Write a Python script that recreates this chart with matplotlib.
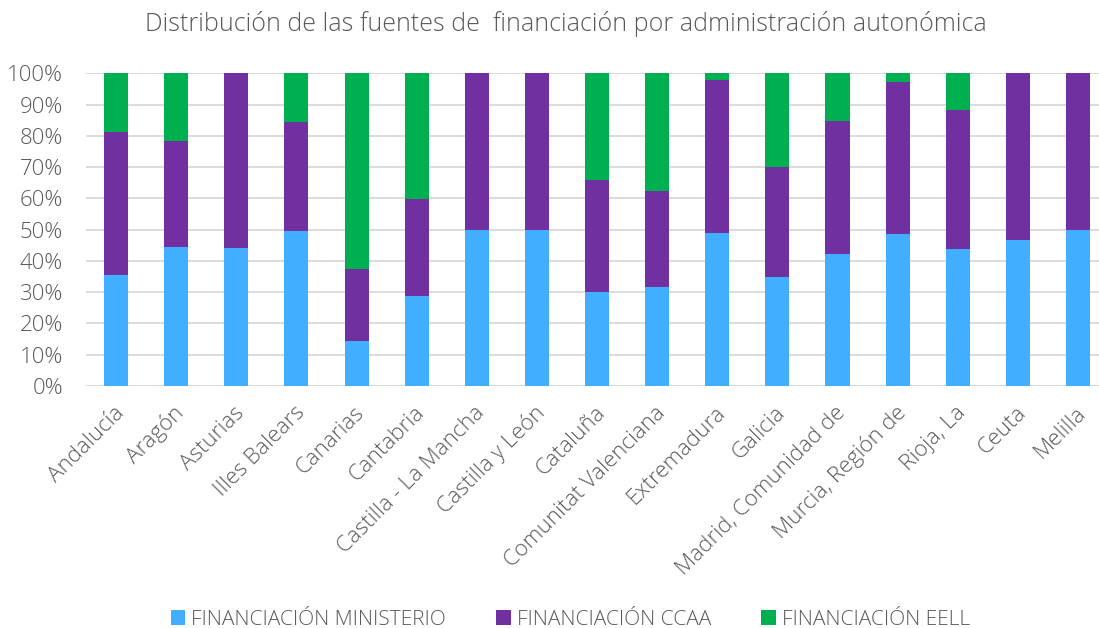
import matplotlib
matplotlib.use("Agg")
import matplotlib.pyplot as plt
import matplotlib.transforms as mtransforms
import numpy as np
from matplotlib.ticker import PercentFormatter

categories = ["Andalucía", "Aragón", "Asturias", "Illes Balears", "Canarias", "Cantabria",
              "Castilla - La Mancha", "Castilla y León", "Cataluña", "Comunitat Valenciana",
              "Extremadura", "Galicia", "Madrid, Comunidad de", "Murcia, Región de",
              "Rioja, La", "Ceuta", "Melilla"]
ministerio = [35.5, 44.5, 44.2, 49.5, 14.5, 28.9, 50.0, 50.0, 30.2, 31.5, 49.0, 34.9, 42.3, 48.5, 43.9, 46.7, 50.0]
ccaa = [45.8, 33.8, 55.8, 34.8, 22.8, 30.8, 50.0, 50.0, 35.6, 30.9, 49.0, 35.0, 42.3, 48.7, 44.3, 53.3, 50.0]
eell = [100 - a - b for a, b in zip(ministerio, ccaa)]

series_names = ["FINANCIACIÓN MINISTERIO", "FINANCIACIÓN CCAA", "FINANCIACIÓN EELL"]
colors = ["#41AEFF", "#7030A0", "#00B050"]

plt.rcParams['font.family'] = ['Open Sans', 'DejaVu Sans']
plt.rcParams['font.weight'] = 'light'
text_color = "#595959"

fig = plt.figure(figsize=(10.99, 6.28), dpi=100)
W, H = 1099, 628
ax = fig.add_axes([86 / W, (H - 386) / H, (1099 - 86) / W, (386 - 73.3) / H])

x = np.arange(len(categories))
bottom = np.zeros(len(categories))
for vals, name, c in zip([ministerio, ccaa, eell], series_names, colors):
    v = np.array(vals)
    ax.bar(x, v, 0.4, bottom=bottom, color=c, label=name, zorder=3)
    bottom += v

ax.set_ylim(0, 100)
ax.set_xlim(-0.5, 16.35)
ax.set_yticks(np.arange(0, 101, 10))
ax.yaxis.set_major_formatter(PercentFormatter(decimals=0))
ax.grid(axis='y', color='#D9D9D9', linewidth=1.3, zorder=0)
for s in ax.spines.values():
    s.set_visible(False)
ax.tick_params(axis='both', length=0, labelsize=16, colors=text_color)
ax.tick_params(axis='y', pad=16.5)
ax.set_xticks(x)
ax.set_xticklabels(categories, rotation=45, ha='right', va='center', rotation_mode='anchor')
ax.tick_params(axis='x', pad=12)
offset = mtransforms.ScaledTranslation(5 / 100, -7 / 100, fig.dpi_scale_trans)
for lbl in ax.get_xticklabels():
    lbl.set_transform(lbl.get_transform() + offset)

fig.text(0.515, 1 - 24 / H, "Distribución de las fuentes de  financiación por administración autonómica",
         ha='center', va='center', fontsize=18, color=text_color, fontweight='light')

handles, labels = ax.get_legend_handles_labels()
fig.legend(handles, labels, loc='center', bbox_to_anchor=(0.519, 1 - 620 / H), ncol=3,
           frameon=False, fontsize=15, labelcolor=text_color, handlelength=0.7, handleheight=0.7,
           handletextpad=0.3, columnspacing=2.4)

fig.savefig("out.png", dpi=100)
